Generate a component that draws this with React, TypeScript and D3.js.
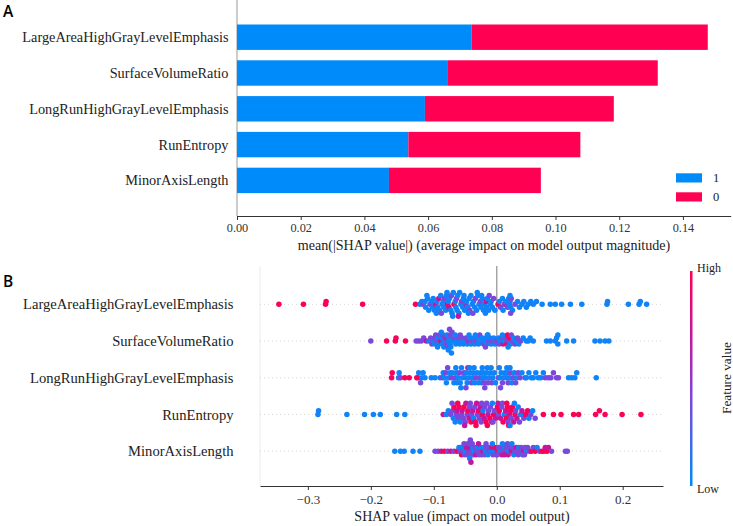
import React, { useEffect, useRef } from 'react';
import * as d3 from 'd3';

const features = [
  'LargeAreaHighGrayLevelEmphasis',
  'SurfaceVolumeRatio',
  'LongRunHighGrayLevelEmphasis',
  'RunEntropy',
  'MinorAxisLength',
];

// mean(|SHAP|) per class
const class1Mean = [0.0737, 0.066, 0.059, 0.0538, 0.0477];
const class0Mean = [0.0741, 0.0661, 0.0593, 0.054, 0.0477];
const classLabels = ['1', '0'];

const barTicks = [0, 0.02, 0.04, 0.06, 0.08, 0.1, 0.12, 0.14];
const shapTicks = [-0.3, -0.2, -0.1, 0, 0.1, 0.2];

// normalised feature values (0 = low, 1 = high)
const b = 0.05, p = 0.4, q = 0.5, m = 0.7, r = 0.97;

// [shap value, feature value]
const largeAreaShap = [
  [-0.346, r], [-0.307, r], [-0.272, r], [-0.271, r], [-0.213, r], [-0.129, r],
  [-0.122, b], [-0.119, b], [-0.117, p], [-0.114, b], [-0.113, b], [-0.11, b], [-0.108, b], [-0.106, p],
  [-0.104, b], [-0.102, b], [-0.101, b], [-0.099, b], [-0.097, m], [-0.095, b], [-0.094, b], [-0.092, m],
  [-0.091, b], [-0.089, b], [-0.087, b], [-0.085, b], [-0.084, b], [-0.083, p], [-0.081, b], [-0.08, b],
  [-0.078, r], [-0.077, b], [-0.076, m], [-0.075, b], [-0.073, b], [-0.072, p], [-0.071, b], [-0.069, b],
  [-0.068, r], [-0.066, b], [-0.065, b], [-0.064, p], [-0.063, b], [-0.062, b], [-0.06, b], [-0.059, b],
  [-0.057, b], [-0.056, p], [-0.054, b], [-0.053, b], [-0.051, b], [-0.049, q], [-0.048, b], [-0.046, b],
  [-0.044, b], [-0.043, p], [-0.041, b], [-0.039, b], [-0.037, b], [-0.035, b], [-0.034, p], [-0.032, b],
  [-0.03, b], [-0.028, b], [-0.026, p], [-0.025, b], [-0.023, b], [-0.021, b], [-0.019, b], [-0.017, m],
  [-0.016, b], [-0.015, b], [-0.013, b], [-0.012, p], [-0.01, b], [-0.009, b], [-0.007, b], [-0.005, p],
  [-0.003, b], [0.002, r], [0.004, b], [0.006, p], [0.009, b], [0.012, q], [0.014, b], [0.017, p],
  [0.019, b], [0.02, b], [0.021, b], [0.022, b], [0.023, p], [0.025, b], [0.029, p], [0.033, b],
  [0.036, b], [0.04, b], [0.043, b], [0.047, b], [0.05, b], [0.054, b], [0.058, b], [0.063, b],
  [0.072, b], [0.085, b], [0.093, b], [0.103, b], [0.117, b], [0.135, b], [0.175, b], [0.176, b],
  [0.209, b], [0.226, b], [0.228, b], [0.238, b],
  [-0.111, b], [-0.096, b], [-0.088, p], [-0.079, b], [-0.07, b], [-0.061, m], [-0.052, b], [-0.045, b],
  [-0.038, p], [-0.031, b], [-0.024, b], [-0.018, b], [0.021, b], [0.022, p], [0.01, b],
];

const surfaceVolumeShap = [
  [-0.2, p], [-0.175, r], [-0.161, r], [-0.16, r], [-0.145, r], [-0.128, p], [-0.124, p], [-0.12, p],
  [-0.116, p], [-0.112, m], [-0.108, b], [-0.105, p], [-0.103, p], [-0.1, b], [-0.099, p], [-0.098, b],
  [-0.097, p], [-0.095, p], [-0.093, b], [-0.092, b], [-0.091, p], [-0.089, m], [-0.087, b], [-0.086, b],
  [-0.085, p], [-0.084, b], [-0.083, b], [-0.082, q], [-0.08, p], [-0.079, b], [-0.078, p], [-0.076, b],
  [-0.075, b], [-0.074, b], [-0.074, p], [-0.073, b], [-0.071, p], [-0.069, b], [-0.067, p], [-0.065, b],
  [-0.063, b], [-0.061, p], [-0.059, b], [-0.057, b], [-0.055, p], [-0.053, b], [-0.051, b], [-0.049, p],
  [-0.047, b], [-0.045, q], [-0.043, b], [-0.041, b], [-0.039, p], [-0.037, b], [-0.035, b], [-0.033, p],
  [-0.031, b], [-0.029, b], [-0.027, p], [-0.025, b], [-0.023, b], [-0.021, p], [-0.019, b], [-0.017, b],
  [-0.016, b], [-0.015, b], [-0.013, p], [-0.011, b], [-0.009, b], [-0.007, p], [-0.005, b], [-0.003, b],
  [-0.001, p], [0.003, b], [0.004, p], [0.006, b], [0.008, p], [0.01, m], [0.012, b], [0.014, p],
  [0.016, r], [0.017, r], [0.019, p], [0.02, r], [0.022, b], [0.023, p], [0.025, p], [0.027, b],
  [0.029, p], [0.031, b], [0.033, p], [0.035, b], [0.038, p], [0.042, b], [0.047, b], [0.05, b],
  [0.053, b], [0.058, b], [0.079, b], [0.085, b], [0.093, b], [0.095, b], [0.097, b], [0.111, b],
  [0.122, b], [0.156, b], [0.164, b], [0.172, b], [0.178, b],
  [-0.094, b], [-0.088, b], [-0.077, b], [-0.075, p], [-0.072, b], [-0.066, b], [-0.058, p], [-0.044, b],
  [-0.034, b], [-0.018, p], [-0.014, b], [0.018, b], [0.009, b], [0.097, b],
];

const longRunShap = [
  [-0.167, r], [-0.166, r], [-0.156, b], [-0.155, b], [-0.153, p], [-0.146, r], [-0.139, r], [-0.127, r],
  [-0.125, r], [-0.124, b], [-0.121, p], [-0.119, b], [-0.117, b], [-0.114, b], [-0.104, b], [-0.098, b],
  [-0.09, b], [-0.086, p], [-0.085, b], [-0.083, b], [-0.081, p], [-0.08, b], [-0.078, p], [-0.076, b],
  [-0.074, b], [-0.072, p], [-0.07, b], [-0.068, b], [-0.066, p], [-0.064, b], [-0.063, b], [-0.061, b],
  [-0.059, p], [-0.058, b], [-0.056, b], [-0.054, b], [-0.052, p], [-0.05, b], [-0.048, b], [-0.047, b],
  [-0.046, q], [-0.044, b], [-0.042, b], [-0.04, p], [-0.038, b], [-0.037, b], [-0.035, b], [-0.033, p],
  [-0.031, b], [-0.029, b], [-0.027, p], [-0.025, b], [-0.024, b], [-0.022, b], [-0.021, b], [-0.02, p],
  [-0.018, b], [-0.016, b], [-0.014, p], [-0.012, b], [-0.01, b], [-0.008, p], [-0.006, b], [-0.004, b],
  [-0.002, b], [0.003, p], [0.005, b], [0.007, b], [0.009, p], [0.011, b], [0.013, b], [0.015, b],
  [0.017, b], [0.018, p], [0.02, b], [0.022, p], [0.024, b], [0.026, p], [0.028, b], [0.03, p],
  [0.032, b], [0.034, p], [0.037, p], [0.04, b], [0.045, p], [0.047, b], [0.051, b], [0.055, b],
  [0.058, b], [0.062, b], [0.066, b], [0.07, b], [0.074, b], [0.077, p], [0.082, p], [0.086, p],
  [0.09, p], [0.095, p], [0.098, p], [0.114, b], [0.119, b], [0.124, b], [0.127, b], [0.158, b],
  [-0.065, b], [-0.057, b], [-0.049, p], [-0.043, b], [-0.036, b], [-0.023, b], [-0.019, p], [-0.015, b],
  [-0.009, b], [0.004, b], [0.006, p], [0.016, b], [0.021, b],
];

const runEntropyShap = [
  [-0.284, b], [-0.283, b], [-0.238, b], [-0.21, b], [-0.196, b], [-0.185, b], [-0.159, b], [-0.146, b],
  [-0.085, m], [-0.08, b], [-0.077, b], [-0.073, p], [-0.07, p], [-0.069, b], [-0.068, r], [-0.066, b],
  [-0.064, p], [-0.063, m], [-0.061, p], [-0.06, r], [-0.058, b], [-0.056, p], [-0.055, m], [-0.053, p],
  [-0.052, r], [-0.05, p], [-0.049, m], [-0.047, p], [-0.046, r], [-0.044, m], [-0.043, p], [-0.041, r],
  [-0.04, p], [-0.038, m], [-0.037, b], [-0.035, p], [-0.034, r], [-0.032, m], [-0.031, p], [-0.029, r],
  [-0.028, p], [-0.026, m], [-0.025, p], [-0.023, r], [-0.022, b], [-0.02, m], [-0.019, p], [-0.017, r],
  [-0.016, p], [-0.014, m], [-0.013, p], [-0.011, r], [-0.01, p], [-0.008, m], [-0.007, b], [-0.005, r],
  [-0.004, p], [-0.002, m], [0.001, r], [0.003, p], [0.004, r], [0.006, m], [0.008, p], [0.01, r],
  [0.012, b], [0.014, m], [0.015, r], [0.017, r], [0.018, p], [0.02, m], [0.022, r], [0.023, p],
  [0.025, r], [0.027, m], [0.029, r], [0.03, p], [0.032, m], [0.034, b], [0.036, p], [0.038, b],
  [0.04, m], [0.043, p], [0.046, r], [0.049, r], [0.051, b], [0.054, p], [0.057, b], [0.061, p],
  [0.074, r], [0.09, r], [0.102, r], [0.122, r], [0.13, r], [0.157, r], [0.163, r], [0.172, r],
  [0.199, r], [0.229, r],
  [-0.071, p], [-0.062, r], [-0.051, m], [-0.042, p], [-0.033, r], [-0.024, p], [-0.015, r], [-0.006, p],
  [0.002, m], [0.009, p], [0.016, r], [0.019, r], [0.028, b], [0.021, b],
];

const minorAxisShap = [
  [-0.162, b], [-0.153, b], [-0.147, b], [-0.133, b], [-0.122, b], [-0.098, p], [-0.093, p], [-0.088, m],
  [-0.083, r], [-0.078, p], [-0.073, m], [-0.068, p], [-0.063, r], [-0.06, b], [-0.058, p], [-0.057, b],
  [-0.056, r], [-0.054, p], [-0.053, b], [-0.051, p], [-0.05, b], [-0.048, m], [-0.047, p], [-0.046, p],
  [-0.045, p], [-0.045, m], [-0.044, p], [-0.044, p], [-0.043, b], [-0.042, p], [-0.041, m], [-0.04, p],
  [-0.038, b], [-0.037, p], [-0.036, b], [-0.034, p], [-0.033, m], [-0.031, p], [-0.03, b], [-0.028, p],
  [-0.027, p], [-0.025, b], [-0.024, p], [-0.022, m], [-0.021, b], [-0.019, p], [-0.018, b], [-0.016, p],
  [-0.014, b], [-0.012, p], [-0.011, p], [-0.009, b], [-0.008, m], [-0.006, p], [-0.004, b], [-0.003, r],
  [-0.001, p], [0.002, r], [0.003, p], [0.005, b], [0.006, p], [0.008, m], [0.009, b], [0.011, p],
  [0.013, b], [0.015, p], [0.016, p], [0.018, m], [0.019, b], [0.021, p], [0.023, m], [0.025, p],
  [0.027, b], [0.029, p], [0.031, m], [0.033, p], [0.035, b], [0.037, p], [0.039, p], [0.041, b],
  [0.043, m], [0.045, p], [0.047, b], [0.049, p], [0.052, p], [0.055, r], [0.058, p], [0.061, r],
  [0.064, b], [0.068, p], [0.072, r], [0.075, r], [0.077, m], [0.08, r], [0.082, m], [0.087, p],
  [0.109, p], [0.112, p],
  [-0.052, p], [-0.039, p], [-0.029, m], [-0.017, p], [-0.007, b], [0.001, p], [0.012, m], [0.017, p],
  [0.024, b], [0.034, p], [0.044, p],
];

const shapRows = [largeAreaShap, surfaceVolumeShap, longRunShap, runEntropyShap, minorAxisShap];

const BLUE = '#008bfb';
const RED = '#ff0052';
const SERIF = "'Liberation Serif', 'Times New Roman', serif";
const SANS = "'Open Sans', 'Noto Sans', sans-serif";

// binned beeswarm offsets, in units of row spacing
function swarmOffsets(xs: number[], nbins = 60, rowHeight = 0.45) {
  const lo = d3.min(xs) as number;
  const hi = d3.max(xs) as number;
  const quant = xs.map(x => Math.round((nbins * (x - lo)) / (hi - lo + 1e-8)));
  const order = d3.range(xs.length).sort((i, j) => quant[i] - quant[j] || i - j);
  const ys = new Array(xs.length).fill(0);
  let layer = 0;
  let last = -1;
  for (const i of order) {
    if (quant[i] !== last) layer = 0;
    ys[i] = Math.ceil(layer / 2) * ((layer % 2) * 2 - 1);
    layer += 1;
    last = quant[i];
  }
  const maxY = (d3.max(ys) as number) + 1;
  return ys.map(v => v * 0.9 * (rowHeight / maxY));
}

const App = () => {
  const svgRef = useRef<SVGSVGElement>(null);

  useEffect(() => {
    const svg = d3.select(svgRef.current);
    svg.selectAll('*').remove();

    // blue -> violet -> magenta -> red
    const color = d3.scaleLinear<string>()
      .domain([0, 0.4, 0.7, 1])
      .range([BLUE, '#7b48dc', '#c4169c', RED])
      .interpolate(d3.interpolateRgb);

    // ---------- A: stacked mean |SHAP| bars ----------
    const xA = d3.scaleLinear().domain([0, 0.155]).range([237, 730.7]);
    const yA = d3.scaleBand().domain(features).range([19.3, 198.3]).paddingInner(0.29).paddingOuter(0.145);

    svg.append('text')
      .attr('x', 3).attr('y', 16.5)
      .attr('font-family', SANS).attr('font-weight', 600).attr('font-size', 15.5)
      .text('A');

    svg.append('line')
      .attr('x1', xA(0)).attr('x2', xA(0)).attr('y1', 0).attr('y2', 216)
      .attr('stroke', '#999').attr('stroke-width', 1);

    const gA = svg.append('g');
    gA.selectAll('rect.c1')
      .data(features)
      .join('rect')
      .attr('x', xA(0))
      .attr('y', d => yA(d) as number)
      .attr('width', (d, i) => xA(class1Mean[i]) - xA(0))
      .attr('height', yA.bandwidth())
      .attr('fill', BLUE);
    gA.selectAll('rect.c0')
      .data(features)
      .join('rect')
      .attr('x', (d, i) => xA(class1Mean[i]))
      .attr('y', d => yA(d) as number)
      .attr('width', (d, i) => xA(class1Mean[i] + class0Mean[i]) - xA(class1Mean[i]))
      .attr('height', yA.bandwidth())
      .attr('fill', RED);

    svg.append('g')
      .selectAll('text')
      .data(features)
      .join('text')
      .attr('x', 228.5)
      .attr('y', d => (yA(d) as number) + yA.bandwidth() / 2)
      .attr('dy', '0.35em')
      .attr('text-anchor', 'end')
      .attr('font-family', SERIF).attr('font-size', 14.3).attr('fill', '#222')
      .text(d => d);

    const axA = svg.append('g')
      .attr('transform', 'translate(0,216)')
      .call(d3.axisBottom(xA).tickValues(barTicks).tickFormat(d3.format('.2f')).tickSize(4).tickPadding(3).tickSizeOuter(0));
    axA.select('.domain').attr('stroke', '#333');
    axA.selectAll('.tick line').attr('stroke', '#333');
    axA.selectAll('.tick text').attr('font-family', SERIF).attr('font-size', 12.3).attr('fill', '#333');

    svg.append('text')
      .attr('x', 484).attr('y', 249.5)
      .attr('text-anchor', 'middle')
      .attr('font-family', SERIF).attr('font-size', 14.1).attr('fill', '#222')
      .text('mean(|SHAP value|) (average impact on model output magnitude)');

    // legend
    const legend = svg.append('g');
    classLabels.forEach((lab, i) => {
      legend.append('rect')
        .attr('x', 676).attr('y', 173.3 + i * 19).attr('width', 26).attr('height', 9.2)
        .attr('fill', i === 0 ? BLUE : RED);
      legend.append('text')
        .attr('x', 713).attr('y', 178 + i * 19).attr('dy', '0.35em')
        .attr('font-family', SERIF).attr('font-size', 12.5).attr('fill', '#222')
        .text(lab);
    });

    // ---------- B: SHAP beeswarm ----------
    const xB = d3.scaleLinear().domain([-0.376, 0.264]).range([260, 663]);
    const yB = d3.scaleBand().domain(features).range([286, 469.5]);
    const rowStep = yB.step();

    svg.append('text')
      .attr('x', 3).attr('y', 286.5)
      .attr('font-family', SANS).attr('font-weight', 600).attr('font-size', 15.5)
      .text('B');

    svg.append('line')
      .attr('x1', 260).attr('x2', 260).attr('y1', 266).attr('y2', 486)
      .attr('stroke', '#ececec');

    features.forEach(f => {
      const cy = (yB(f) as number) + rowStep / 2;
      svg.append('line')
        .attr('x1', 260).attr('x2', 663).attr('y1', cy).attr('y2', cy)
        .attr('stroke', '#ccc').attr('stroke-width', 0.8).attr('stroke-dasharray', '1,3');
    });

    svg.append('line')
      .attr('x1', xB(0)).attr('x2', xB(0)).attr('y1', 266).attr('y2', 486)
      .attr('stroke', '#999').attr('stroke-width', 1.3);

    const dots = svg.append('g');
    shapRows.forEach((rows, i) => {
      const cy = (yB(features[i]) as number) + rowStep / 2;
      const offs = swarmOffsets(rows.map(d => d[0]));
      dots.append('g')
        .selectAll('circle')
        .data(rows)
        .join('circle')
        .attr('cx', d => xB(d[0]))
        .attr('cy', (d, j) => cy - offs[j] * rowStep)
        .attr('r', 2.75)
        .attr('fill', d => color(d[1]));
    });

    svg.append('g')
      .selectAll('text')
      .data(features)
      .join('text')
      .attr('x', 233.5)
      .attr('y', d => (yB(d) as number) + rowStep / 2)
      .attr('dy', '0.35em')
      .attr('text-anchor', 'end')
      .attr('font-family', SERIF).attr('font-size', 14.6).attr('fill', '#222')
      .text(d => d);

    const axB = svg.append('g')
      .attr('transform', 'translate(0,486)')
      .call(d3.axisBottom(xB).tickValues(shapTicks).tickFormat(d3.format('.1f')).tickSize(4).tickPadding(4.5).tickSizeOuter(0));
    axB.select('.domain').attr('stroke', '#333');
    axB.selectAll('.tick line').attr('stroke', '#333');
    axB.selectAll('.tick text').attr('font-family', SERIF).attr('font-size', 13).attr('fill', '#333');

    svg.append('text')
      .attr('x', 462).attr('y', 521)
      .attr('text-anchor', 'middle')
      .attr('font-family', SERIF).attr('font-size', 14).attr('fill', '#222')
      .text('SHAP value (impact on model output)');

    // colour bar
    const defs = svg.append('defs');
    const grad = defs.append('linearGradient')
      .attr('id', 'fv-grad').attr('x1', 0).attr('x2', 0).attr('y1', 1).attr('y2', 0);
    d3.range(0, 1.0001, 0.1).forEach(t => {
      grad.append('stop').attr('offset', t).attr('stop-color', color(t));
    });
    svg.append('rect')
      .attr('x', 690).attr('y', 271).attr('width', 2.5).attr('height', 215)
      .attr('fill', 'url(#fv-grad)');
    svg.append('text')
      .attr('x', 697).attr('y', 268).attr('dy', '0.35em')
      .attr('font-family', SERIF).attr('font-size', 12).attr('fill', '#222')
      .text('High');
    svg.append('text')
      .attr('x', 697).attr('y', 488.5).attr('dy', '0.35em')
      .attr('font-family', SERIF).attr('font-size', 12).attr('fill', '#222')
      .text('Low');
    svg.append('text')
      .attr('transform', 'translate(731,378) rotate(-90)')
      .attr('text-anchor', 'middle')
      .attr('font-family', SERIF).attr('font-size', 13.3).attr('fill', '#222')
      .text('Feature value');
  }, []);

  return (
    <svg
      ref={svgRef}
      width={733}
      height={526}
      style={{ position: 'absolute', left: 0, top: 0, background: '#fff' }}
    />
  );
};

export default App;
